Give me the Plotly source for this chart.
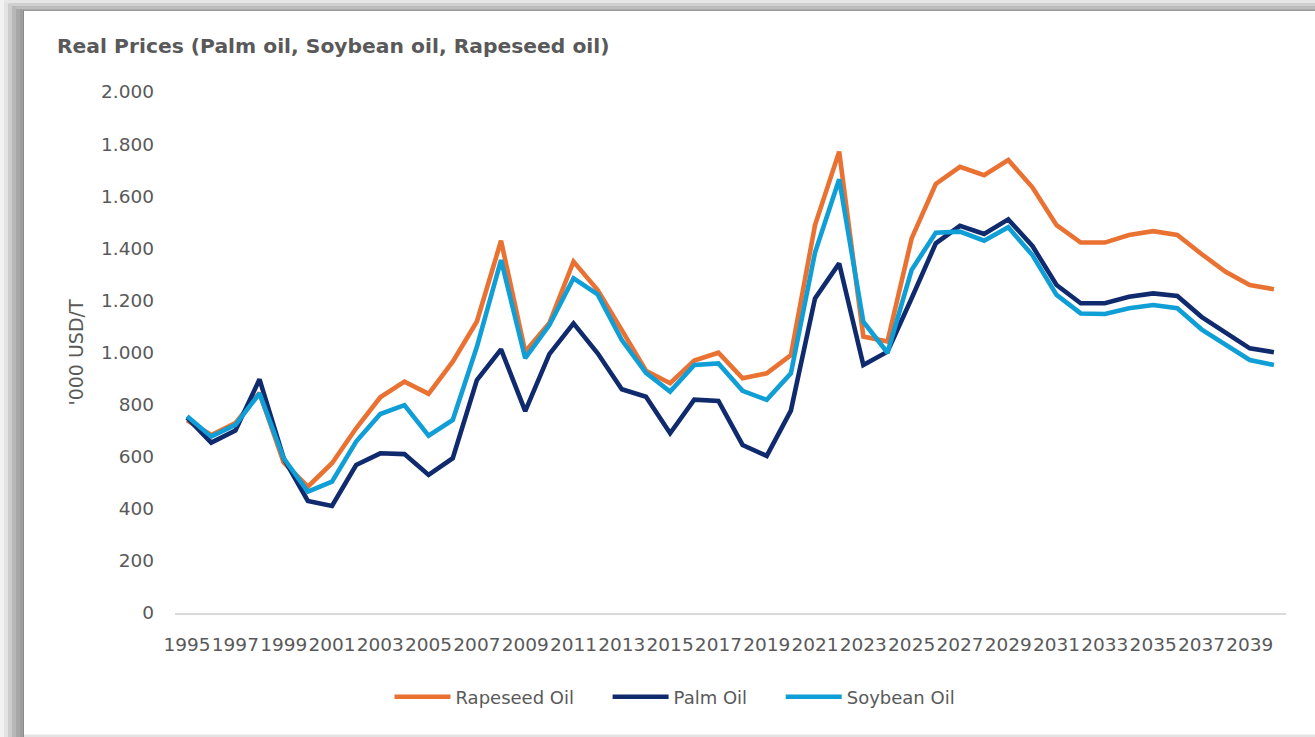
import plotly.graph_objects as go

# Years on the category axis
years = ["1995", "1996", "1997", "1998", "1999", "2000", "2001", "2002", "2003", "2004",
         "2005", "2006", "2007", "2008", "2009", "2010", "2011", "2012", "2013", "2014",
         "2015", "2016", "2017", "2018", "2019", "2020", "2021", "2022", "2023", "2024",
         "2025", "2026", "2027", "2028", "2029", "2030", "2031", "2032", "2033", "2034",
         "2035", "2036", "2037", "2038", "2039", "2040"]

# Real prices, '000 USD/T (scaled as displayed)
rapeseed_oil = [740, 683, 729, 845, 578, 485, 575, 709, 828, 888,
                841, 965, 1119, 1429, 1003, 1113, 1349, 1240, 1086, 930,
                882, 969, 999, 901, 920, 990, 1489, 1771, 1061, 1042,
                1438, 1647, 1713, 1681, 1739, 1634, 1489, 1422, 1422, 1451,
                1466, 1451, 1378, 1310, 1259, 1243]
palm_oil = [750, 654, 700, 897, 594, 430, 411, 568, 613, 610,
            530, 594, 894, 1012, 775, 994, 1112, 997, 859, 830,
            690, 819, 814, 645, 603, 777, 1208, 1342, 952, 1003,
            1208, 1419, 1486, 1455, 1511, 1409, 1259, 1189, 1189, 1214,
            1227, 1217, 1137, 1074, 1016, 1001]
soybean_oil = [755, 677, 722, 843, 594, 466, 504, 658, 764, 798,
               681, 741, 1022, 1355, 978, 1105, 1285, 1223, 1048, 922,
               850, 952, 958, 853, 818, 920, 1384, 1665, 1118, 999,
               1317, 1460, 1464, 1429, 1481, 1374, 1221, 1150, 1148, 1170,
               1182, 1170, 1089, 1029, 971, 952]

series_names = ["Rapeseed Oil", "Palm Oil", "Soybean Oil"]
x_tick_labels = ["1995", "1997", "1999", "2001", "2003", "2005", "2007", "2009", "2011",
                 "2013", "2015", "2017", "2019", "2021", "2023", "2025", "2027", "2029",
                 "2031", "2033", "2035", "2037", "2039"]
y_tick_values = [0, 200, 400, 600, 800, 1000, 1200, 1400, 1600, 1800, 2000]

W, H = 1315, 737
ML, MR, MT, MB = 175, 29, 92, 124
PW, PH = W - ML - MR, H - MT - MB

TEXT = "#595959"
FONT = "DejaVu Sans"
LEGEND_PAD = "\u00a0" * 5  # extra room between legend entries


def px_x(px):
    return (px - ML) / PW


def px_y(py):
    return (H - MB - py) / PH


fig = go.Figure()
series = [
    (rapeseed_oil, "#E97132"),
    (palm_oil, "#102A6E"),
    (soybean_oil, "#0F9ED5"),
]
for i, (name, (vals, color)) in enumerate(zip(series_names, series)):
    label = name + (LEGEND_PAD if i < len(series_names) - 1 else "")
    fig.add_trace(go.Scatter(
        x=years, y=vals, name=label, mode="lines",
        line=dict(color=color, width=4.6),
        hovertemplate=name + ": %{y}<extra>%{x}</extra>",
    ))

# Card frame: soft shadow along the left and top edges, thin rule at the bottom
shapes = []
left_steps = [(0, 4, "#F2F2F2"), (4, 8, "#E2E2E2"), (8, 12, "#CDCDCD"),
              (12, 16, "#B8B8B8"), (16, 20, "#A8A8A8"), (20, 23, "#9E9E9E"),
              (23, 24, "#8C8C8C")]
for x0, x1, c in left_steps:
    shapes.append(dict(type="rect", xref="paper", yref="paper",
                       x0=px_x(x0), x1=px_x(x1), y0=px_y(H), y1=px_y(x0 * 0.4),
                       fillcolor=c, line=dict(width=0), layer="below"))
top_steps = [(0, 3, "#E6E6E6"), (3, 6, "#CFCFCF"), (6, 9, "#BDBDBD"),
             (9, 10, "#ADADAD"), (10, 11, "#999999")]
for y0, y1, c in top_steps:
    shapes.append(dict(type="rect", xref="paper", yref="paper",
                       x0=px_x(y0 * 2 + 4), x1=px_x(W), y0=px_y(y1), y1=px_y(y0),
                       fillcolor=c, line=dict(width=0), layer="below"))
shapes.append(dict(type="rect", xref="paper", yref="paper",
                   x0=px_x(24), x1=px_x(W), y0=px_y(737), y1=px_y(734.5),
                   fillcolor="#E3E3E3", line=dict(width=0), layer="below"))

fig.update_layout(
    width=W, height=H,
    margin=dict(l=ML, r=MR, t=MT, b=MB, autoexpand=False),
    paper_bgcolor="white", plot_bgcolor="white",
    separators=",.",
    font=dict(family=FONT, color=TEXT, size=18),
    title=dict(text="<b>Real Prices (Palm oil, Soybean oil, Rapeseed oil)</b>",
               xref="container", yref="container", x=57 / W, xanchor="left",
               y=1 - 46 / H, yanchor="middle",
               font=dict(family=FONT, size=20.3, color=TEXT)),
    showlegend=True,
    legend=dict(orientation="h", xref="container", yref="container",
                x=675 / W, xanchor="center", y=1 - 697 / H, yanchor="middle",
                font=dict(family=FONT, size=18, color=TEXT),
                itemwidth=56, traceorder="normal", bgcolor="rgba(0,0,0,0)"),
    shapes=shapes,
    xaxis=dict(type="category", tickmode="array", tickvals=x_tick_labels,
               ticktext=x_tick_labels, tickangle=0, ticks="",
               ticklabelstandoff=14,
               tickfont=dict(family=FONT, size=18.5, color=TEXT),
               showgrid=False, zeroline=False,
               showline=True, linecolor="#D9D9D9", linewidth=2,
               range=[-0.5, len(years) - 0.5], automargin=False),
    yaxis=dict(range=[0, 2000], tickmode="array", tickvals=y_tick_values,
               tickformat=",d", ticks="", ticklabelstandoff=20,
               tickfont=dict(family=FONT, size=18.5, color=TEXT),
               showgrid=False, zeroline=False, showline=False,
               title=dict(text="'000 USD/T", standoff=12,
                          font=dict(family=FONT, size=19, color=TEXT)),
               automargin=False),
)

fig.write_html("out.html")
